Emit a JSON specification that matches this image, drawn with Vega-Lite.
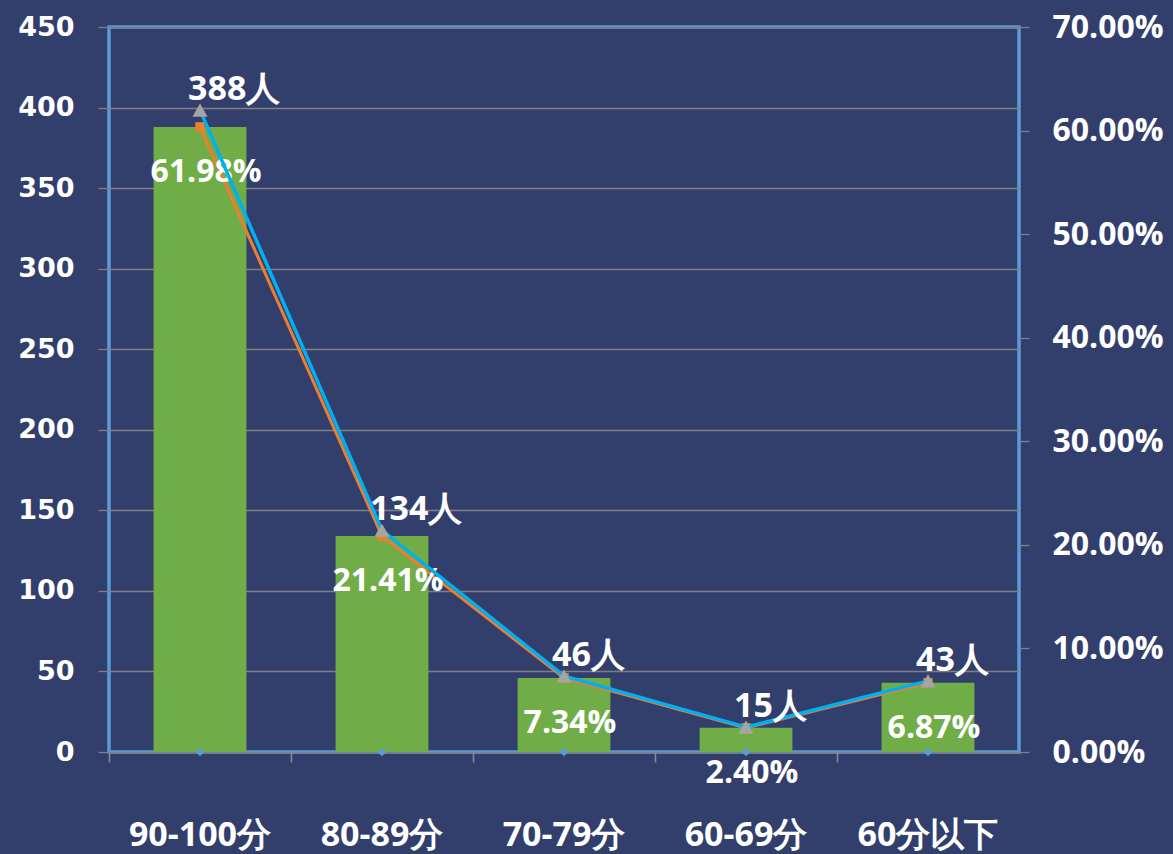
{
  "$schema": "https://vega.github.io/schema/vega-lite/v6.json",
  "width": 910,
  "height": 725,
  "autosize": {"type": "none"},
  "padding": {"left": 109, "top": 27, "right": 154, "bottom": 102},
  "background": "#323f6d",
  "config": {
    "view": {"stroke": "#5b9bd5", "strokeWidth": 3.5},
    "font": "Open Sans"
  },
  "data": {
    "values": [
      {"category": "90-100分", "count": 388, "pct": 0.6198, "label": "388人"},
      {"category": "80-89分", "count": 134, "pct": 0.2141, "label": "134人"},
      {"category": "70-79分", "count": 46, "pct": 0.0734, "label": "46人"},
      {"category": "60-69分", "count": 15, "pct": 0.024, "label": "15人"},
      {"category": "60分以下", "count": 43, "pct": 0.0687, "label": "43人"}
    ]
  },
  "encoding": {
    "x": {
      "field": "category",
      "type": "nominal",
      "sort": null,
      "title": null,
      "scale": {"paddingInner": 0.49, "paddingOuter": 0.245},
      "axis": {
        "domain": false,
        "bandPosition": -0.48,
        "ticks": true,
        "tickColor": "#8c8c8c",
        "tickSize": 10,
        "tickWidth": 1.5,
        "labelAngle": 0,
        "labelColor": "#ffffff",
        "labelFont": "Open Sans",
        "labelFontWeight": "bold",
        "labelFontSize": 34,
        "labelPadding": 56,
        "labelBound": false,
        "labelOverlap": false,
        "grid": false
      }
    }
  },
  "layer": [
    {
      "encoding": {
        "y": {
          "field": "count",
          "type": "quantitative",
          "title": null,
          "scale": {"domain": [0, 450], "nice": false},
          "axis": {
            "orient": "left",
            "values": [0, 50, 100, 150, 200, 250, 300, 350, 400, 450],
            "domain": false,
            "grid": true,
            "gridColor": "#808080",
            "gridWidth": 1.3,
            "tickColor": "#808080",
            "tickSize": 11,
            "tickWidth": 1.3,
            "labelColor": "#ffffff",
            "labelFont": "DejaVu Sans",
            "labelFontWeight": "bold",
            "labelFontSize": 27,
            "labelPadding": 24
          }
        }
      },
      "layer": [
        {"mark": {"type": "bar", "color": "#70ad47"}},
        {"mark": {"type": "line", "color": "#ed7d31", "strokeWidth": 3}},
        {"mark": {"type": "point", "shape": "square", "filled": true, "color": "#ed7d31", "size": 90, "opacity": 1}},
        {
          "mark": {"type": "point", "shape": "diamond", "filled": true, "color": "#5b9bd5", "size": 70, "opacity": 1},
          "encoding": {"y": {"datum": 0}}
        },
        {
          "mark": {
            "type": "text",
            "color": "#ffffff",
            "font": "Open Sans",
            "fontWeight": "bold",
            "fontSize": 32,
            "align": "center",
            "baseline": "alphabetic",
            "dx": 6,
            "dy": 55
          },
          "encoding": {"text": {"field": "pct", "type": "quantitative", "format": ".2%"}}
        }
      ]
    },
    {
      "encoding": {
        "y": {
          "field": "pct",
          "type": "quantitative",
          "title": null,
          "scale": {"domain": [0, 0.7], "nice": false},
          "axis": {
            "orient": "right",
            "values": [0, 0.1, 0.2, 0.3, 0.4, 0.5, 0.6, 0.7],
            "format": ".2%",
            "domain": false,
            "grid": false,
            "tickColor": "#808080",
            "tickSize": 10,
            "tickWidth": 1.3,
            "labelColor": "#ffffff",
            "labelFont": "Open Sans",
            "labelFontWeight": "bold",
            "labelFontSize": 32,
            "labelPadding": 23
          }
        }
      },
      "layer": [
        {"mark": {"type": "line", "color": "#00b0f0", "strokeWidth": 3.5}},
        {"mark": {"type": "point", "shape": "triangle-up", "filled": true, "color": "#a5a5a5", "size": 230, "opacity": 1}},
        {
          "mark": {
            "type": "text",
            "color": "#ffffff",
            "font": "Open Sans",
            "fontWeight": "bold",
            "fontSize": 34,
            "align": "left",
            "baseline": "alphabetic",
            "dx": -12,
            "dy": -10
          },
          "encoding": {"text": {"field": "label", "type": "nominal"}}
        }
      ]
    }
  ],
  "resolve": {"scale": {"y": "independent"}}
}
